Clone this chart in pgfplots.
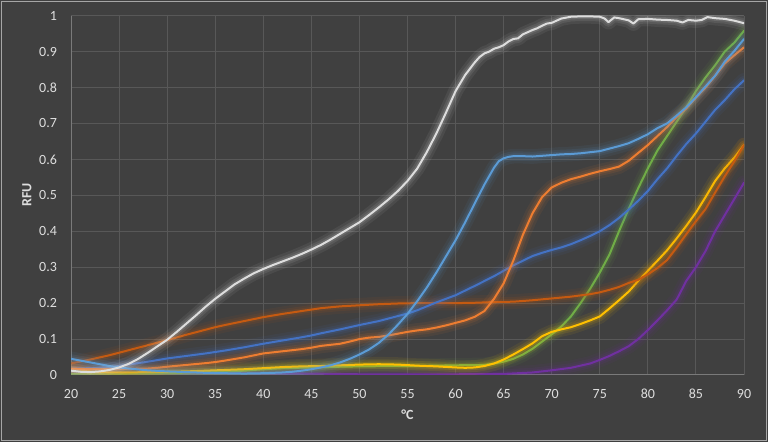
\documentclass[border=0pt]{standalone}
\usepackage{pgfplots}
\pgfplotsset{compat=1.18}
\usepackage{fontspec}
\setmainfont{Carlito}
\definecolor{bg}{HTML}{404040}
\definecolor{gridc}{HTML}{585858}
\definecolor{axisc}{HTML}{7A7A7A}
\definecolor{framec}{HTML}{A6A6A6}
\definecolor{txt}{HTML}{DEDEDE}
\definecolor{cW}{HTML}{DDDDDD}
\definecolor{cLB}{HTML}{5B9BD5}
\definecolor{cO}{HTML}{ED7D31}
\definecolor{cMB}{HTML}{4472C4}
\definecolor{cDO}{HTML}{C55A11}
\definecolor{cY}{HTML}{FFC000}
\definecolor{cG}{HTML}{70AD47}
\definecolor{cP}{HTML}{7030A0}
\pgfplotsset{
  glow/.style={color=#1, line width=1.5pt, line join=round, line cap=round,
    preaction={draw=#1, line width=11pt, draw opacity=0.07},
    preaction={draw=#1, line width=7pt, draw opacity=0.10},
    preaction={draw=#1, line width=4pt, draw opacity=0.14}},
}
\begin{document}
\begin{tikzpicture}[x=1pt,y=1pt]
\useasboundingbox (0,0) rectangle (576,331.5);
\fill[bg] (0,0) rectangle (576,331.5);
\draw[framec, line width=0.75pt] (1.2,1.2) rectangle (574.8,330.3);
\begin{axis}[
  at={(53.25pt,50.25pt)}, anchor=south west,
  scale only axis, width=504.75pt, height=269.5pt,
  xmin=20, xmax=90, ymin=0, ymax=1,
  xtick={20,25,...,90},
  ytick={0,0.1,0.2,0.3,0.4,0.5,0.6,0.7,0.8,0.9,1},
  grid=major,
  major grid style={gridc, line width=0.75pt},
  major tick length=0pt,
  axis lines*=left,
  axis line style={-, draw=axisc, line width=0.75pt},
  tick label style={txt, font=\fontsize{10.5}{12}\selectfont},
  /pgf/number format/assume math mode=true,
  xticklabel style={yshift=-7pt},
  yticklabel style={xshift=-7pt},
  clip=true,
]
\addplot[glow=cP] coordinates {(20,0.008)(25,0.007)(30,0.006)(35,0.005)(40,0.005)(45,0.004)(50,0.002)(55,0.002)(60,0.002)(65,0.003)(68,0.007)(70,0.013)(72,0.020)(74,0.032)(75,0.042)(76,0.053)(77,0.066)(78,0.080)(79,0.100)(80,0.125)(81,0.152)(82,0.180)(83,0.210)(84,0.262)(85,0.300)(86,0.345)(87,0.400)(88,0.445)(89,0.490)(90,0.535)};
\addplot[glow=cG] coordinates {(20,0.004)(25,0.004)(30,0.005)(35,0.009)(38,0.012)(40,0.016)(42,0.019)(45,0.021)(48,0.023)(50,0.024)(55,0.025)(58,0.026)(60,0.027)(63,0.028)(64,0.032)(65,0.037)(66,0.045)(67,0.057)(68,0.073)(69,0.093)(70,0.113)(71,0.135)(72,0.163)(73,0.200)(74,0.240)(75,0.285)(76,0.335)(77,0.400)(78,0.462)(79,0.520)(80,0.575)(81,0.625)(82,0.665)(83,0.705)(84,0.745)(85,0.790)(86,0.828)(87,0.862)(88,0.900)(89,0.925)(90,0.958)};
\addplot[glow=cY] coordinates {(20,0.018)(21,0.015)(22,0.010)(23,0.008)(25,0.007)(28,0.008)(30,0.009)(32,0.010)(35,0.013)(38,0.016)(40,0.019)(42,0.022)(44,0.024)(46,0.025)(48,0.027)(50,0.029)(52,0.030)(54,0.029)(56,0.026)(58,0.024)(60,0.021)(61,0.020)(62,0.021)(63,0.025)(64,0.032)(65,0.043)(66,0.057)(67,0.072)(68,0.088)(69,0.108)(70,0.120)(71,0.127)(72,0.133)(73,0.142)(74,0.152)(75,0.163)(76,0.185)(77,0.208)(78,0.232)(79,0.262)(80,0.290)(81,0.318)(82,0.347)(83,0.380)(84,0.415)(85,0.452)(86,0.495)(87,0.540)(88,0.575)(89,0.605)(90,0.640)};
\addplot[glow=cDO] coordinates {(20,0.032)(22,0.043)(24,0.055)(25,0.062)(26,0.069)(28,0.083)(30,0.097)(32,0.112)(34,0.126)(35,0.133)(36,0.139)(38,0.150)(40,0.161)(42,0.170)(44,0.178)(45,0.182)(46,0.186)(48,0.191)(50,0.194)(52,0.197)(54,0.199)(56,0.200)(58,0.200)(60,0.200)(62,0.201)(64,0.203)(66,0.204)(68,0.208)(70,0.213)(72,0.218)(74,0.225)(75,0.230)(76,0.237)(77,0.245)(78,0.256)(79,0.265)(80,0.280)(81,0.298)(82,0.320)(83,0.355)(84,0.392)(85,0.428)(86,0.462)(87,0.508)(88,0.553)(89,0.595)(90,0.640)};
\addplot[glow=cMB] coordinates {(20,0.018)(22,0.019)(24,0.022)(25,0.025)(26,0.029)(28,0.037)(30,0.046)(32,0.053)(34,0.060)(35,0.064)(36,0.068)(38,0.077)(40,0.087)(42,0.096)(44,0.105)(45,0.110)(46,0.116)(48,0.127)(50,0.139)(52,0.150)(54,0.164)(55,0.171)(56,0.180)(58,0.202)(60,0.222)(62,0.248)(64,0.275)(65,0.290)(66,0.305)(67,0.318)(68,0.331)(69,0.340)(70,0.348)(71,0.355)(72,0.364)(73,0.375)(74,0.387)(75,0.400)(76,0.417)(77,0.437)(78,0.460)(79,0.485)(80,0.512)(81,0.545)(82,0.575)(83,0.610)(84,0.643)(85,0.672)(86,0.705)(87,0.738)(88,0.765)(89,0.795)(90,0.820)};
\addplot[glow=cO] coordinates {(20,0.018)(22,0.016)(24,0.016)(26,0.017)(28,0.018)(29,0.020)(30,0.023)(32,0.028)(34,0.033)(35,0.036)(36,0.040)(38,0.049)(40,0.060)(42,0.066)(44,0.072)(45,0.076)(46,0.081)(48,0.087)(49,0.093)(50,0.100)(51,0.104)(52,0.106)(53,0.110)(54,0.115)(55,0.120)(56,0.124)(57,0.127)(58,0.132)(59,0.138)(60,0.145)(61,0.152)(62,0.162)(63,0.178)(64,0.212)(65,0.255)(66,0.318)(67,0.390)(68,0.450)(69,0.495)(70,0.522)(71,0.535)(72,0.545)(73,0.552)(74,0.560)(75,0.567)(76,0.573)(77,0.580)(78,0.596)(79,0.618)(80,0.640)(81,0.665)(82,0.690)(83,0.718)(84,0.742)(85,0.772)(86,0.800)(87,0.833)(88,0.867)(89,0.890)(90,0.912)};
\addplot[glow=cLB] coordinates {(20,0.045)(21,0.040)(22,0.035)(23,0.030)(24,0.025)(25,0.021)(26,0.018)(28,0.013)(30,0.010)(32,0.008)(34,0.006)(36,0.005)(38,0.004)(40,0.005)(42,0.007)(43,0.009)(44,0.012)(45,0.016)(46,0.021)(47,0.027)(48,0.035)(49,0.045)(50,0.057)(51,0.071)(52,0.089)(53,0.112)(54,0.140)(55,0.170)(56,0.205)(57,0.243)(58,0.285)(59,0.330)(60,0.375)(61,0.425)(62,0.478)(63,0.530)(64,0.577)(64.5,0.595)(65,0.603)(65.5,0.607)(66,0.609)(67,0.609)(68,0.608)(69,0.610)(70,0.612)(71,0.614)(72,0.615)(73,0.617)(74,0.620)(75,0.623)(76,0.630)(77,0.637)(78,0.645)(79,0.657)(80,0.670)(81,0.687)(82,0.700)(83,0.722)(84,0.745)(85,0.773)(86,0.803)(87,0.833)(88,0.872)(89,0.902)(90,0.935)};
\addplot[glow=cW] coordinates {(20,0.012)(21,0.009)(22,0.008)(23,0.010)(24,0.014)(25,0.021)(26,0.031)(27,0.045)(28,0.062)(29,0.080)(30,0.098)(31,0.120)(32,0.143)(33,0.166)(34,0.190)(35,0.212)(36,0.232)(37,0.252)(38,0.268)(39,0.283)(40,0.295)(41,0.306)(42,0.316)(43,0.326)(44,0.337)(45,0.349)(46,0.362)(47,0.377)(48,0.393)(49,0.409)(50,0.425)(51,0.445)(52,0.466)(53,0.488)(54,0.512)(55,0.540)(56,0.574)(57,0.620)(58,0.672)(59,0.730)(60,0.790)(61,0.835)(62,0.870)(62.5,0.885)(63,0.895)(63.5,0.900)(64,0.908)(64.5,0.912)(65,0.918)(65.5,0.928)(66,0.935)(66.5,0.937)(67,0.948)(68,0.960)(68.5,0.965)(69,0.972)(69.5,0.978)(70,0.980)(70.5,0.986)(71,0.992)(72,0.997)(73,0.998)(74,0.998)(75,0.997)(75.5,0.992)(75.9,0.982)(76.5,0.995)(77,0.993)(78,0.987)(78.5,0.978)(79,0.990)(80,0.991)(81,0.989)(82,0.988)(83,0.986)(83.6,0.981)(84.2,0.988)(85,0.986)(85.6,0.988)(86.2,0.996)(87,0.993)(88,0.991)(89,0.986)(90,0.979)};
\end{axis}
\node[txt, rotate=90, font=\fontsize{10.5}{12}\selectfont\bfseries] at (20.25,185.25) {RFU};
\node[txt, font=\fontsize{10.5}{12}\selectfont\bfseries] at (305.6,20.25) {°C};
\end{tikzpicture}
\end{document}
